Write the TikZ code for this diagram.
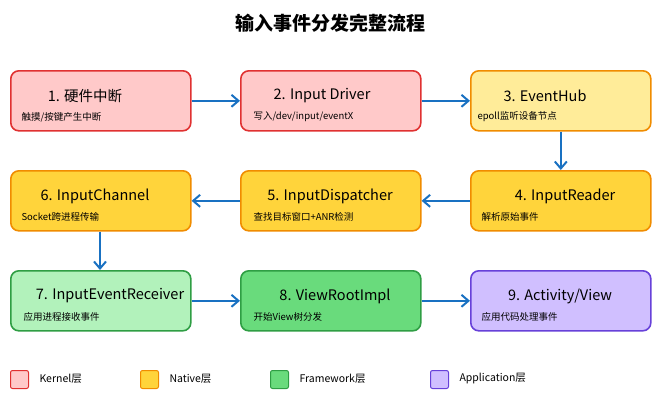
\documentclass[tikz,border=0pt]{standalone}
\usepackage{fontspec}
\setmainfont{Noto Sans CJK SC}
\usetikzlibrary{arrows.meta}
\definecolor{rf}{HTML}{FFC9C9}\definecolor{rs}{HTML}{E03131}
\definecolor{yf}{HTML}{FFEC99}\definecolor{ys}{HTML}{F08C00}
\definecolor{of}{HTML}{FFD43B}
\definecolor{gf}{HTML}{B2F2BB}\definecolor{gs}{HTML}{2F9E44}
\definecolor{gf2}{HTML}{69DB7C}
\definecolor{pf}{HTML}{D0BFFF}\definecolor{ps}{HTML}{6741D9}
\definecolor{ab}{HTML}{1971C2}
\begin{document}
\begin{tikzpicture}[x=1pt,y=-1pt,
 box/.style={draw,line width=1.6pt,rounded corners=8pt,minimum width=180pt,minimum height=60pt,anchor=north west},
 ttl/.style={font=\fontsize{14.5}{16}\selectfont,anchor=center},
 sub/.style={font=\fontsize{9.5}{11}\selectfont,anchor=west},
 lsub/.style={font=\fontsize{10.5}{12}\selectfont,anchor=west},
 arr/.style={draw=ab,line width=2pt,-{Straight Barb[length=7pt,width=12pt]}},
 leg/.style={draw,line width=1pt,rounded corners=2pt,minimum size=18pt,anchor=north west}]
\useasboundingbox (0,0) rectangle (660,400);
\node[font=\fontsize{19}{22}\selectfont\bfseries] (title) at (330,23) {输入事件分发完整流程};
\node[box,fill=rf,draw=rs] (b1) at (10,70) {};
\node[box,fill=rf,draw=rs] (b2) at (240,70) {};
\node[box,fill=yf,draw=ys] (b3) at (470,70) {};
\node[box,fill=of,draw=ys] (b6) at (10,170) {};
\node[box,fill=of,draw=ys] (b5) at (240,170) {};
\node[box,fill=of,draw=ys] (b4) at (470,170) {};
\node[box,fill=gf,draw=gs] (b7) at (10,270) {};
\node[box,fill=gf2,draw=gs] (b8) at (240,270) {};
\node[box,fill=pf,draw=ps] (b9) at (470,270) {};
\node[ttl] (t1) at (85,96) {1. 硬件中断};
\node[sub] (s1) at (18,117) {触摸/按键产生中断};
\node[ttl] (t2) at (322,96) {2. Input Driver};
\node[sub] (s2) at (250,117) {写入/dev/input/eventX};
\node[ttl] (t3) at (545,96) {3. EventHub};
\node[sub] (s3) at (474,117) {epoll监听设备节点};
\node[ttl] (t4) at (565,196) {4. InputReader};
\node[sub] (s4) at (478,217) {解析原始事件};
\node[ttl] (t5) at (330,196) {5. InputDispatcher};
\node[sub] (s5) at (250,217) {查找目标窗口+ANR检测};
\node[ttl] (t6) at (95,196) {6. InputChannel};
\node[sub] (s6) at (18,217) {Socket跨进程传输};
\node[ttl] (t7) at (110,296) {7. InputEventReceiver};
\node[sub] (s7) at (20,317) {应用进程接收事件};
\node[ttl] (t8) at (335,296) {8. ViewRootImpl};
\node[sub] (s8) at (250,317) {开始View树分发};
\node[ttl] (t9) at (560,296) {9. Activity/View};
\node[sub] (s9) at (478,317) {应用代码处理事件};
\draw[arr] (b1.east) -- (b2.west);
\draw[arr] (b2.east) -- (b3.west);
\draw[arr] (b3.south) -- (b4.north);
\draw[arr] (b4.west) -- (b5.east);
\draw[arr] (b5.west) -- (b6.east);
\draw[arr] (b6.south -| 100,0) -- (b7.north -| 100,0);
\draw[arr] (b7.east) -- (b8.west);
\draw[arr] (b8.east) -- (b9.west);
\node[leg,fill=rf,draw=rs] (l1) at (10,370) {};
\node[lsub] (lt1) at (36,379) {Kernel层};
\node[leg,fill=of,draw=ys] (l2) at (140,370) {};
\node[lsub] (lt2) at (166,379) {Native层};
\node[leg,fill=gf2,draw=gs] (l3) at (270,370) {};
\node[lsub] (lt3) at (296,379) {Framework层};
\node[leg,fill=pf,draw=ps] (l4) at (430,370) {};
\node[lsub] (lt4) at (456,379) {Application层};
\end{tikzpicture}
\end{document}
